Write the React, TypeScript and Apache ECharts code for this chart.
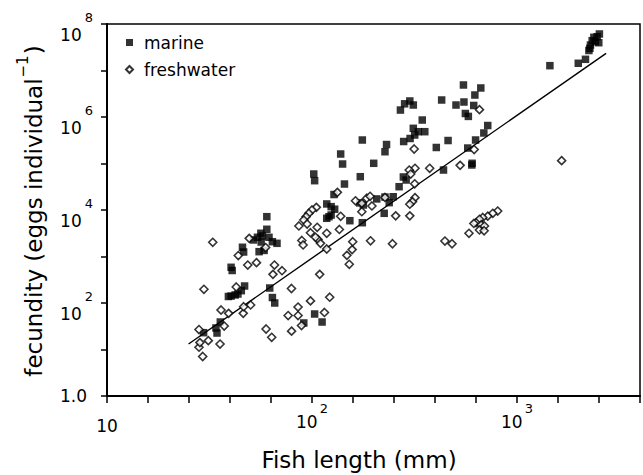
import React, { useEffect, useRef } from 'react';
import * as echarts from 'echarts';

const FONT = 'DejaVu Sans';

// [fish length (mm), fecundity (eggs per individual)]
const marine: number[][] = [
  [29.6, 23], [35.7, 39], [34, 29], [34.4, 22.6], [40.3, 586], [40.8, 500], [45.8, 1580], [46.4, 1250],
  [40.3, 141], [42.2, 149], [43.5, 156], [45.2, 184], [46.9, 232], [39.1, 138],
  [60.2, 7180], [60.2, 3850], [56.3, 3160], [54.2, 2590], [51.8, 2270], [56.5, 2050], [58.4, 1350],
  [61.7, 2590], [64.1, 2080], [67.5, 1920], [55.2, 1270], [57.3, 2760],
  [62.2, 210], [64.1, 131], [65.8, 100], [91.2, 37.2], [103, 58], [112, 39],
  [102, 59400], [103, 42700], [128, 21500], [118, 13500], [124, 11800], [129, 10400], [118, 6630],
  [121, 7180], [124, 7800],
  [138, 160000], [141, 97500], [144, 36200], [153, 5890], [176, 5330], [172, 52000], [176, 320000],
  [200, 101000], [207, 17300], [227, 19000], [249, 19300], [238, 14400], [178, 12800], [171, 14200],
  [225, 8490], [266, 31700], [279, 51300], [288, 44200],
  [227, 179000], [231, 256000], [280, 297000], [301, 345000], [312, 571000], [330, 483000],
  [355, 483000], [317, 410000], [345, 861000],
  [270, 1410000], [283, 1920000], [300, 2210000], [312, 1810000],
  [404, 221000], [461, 312000], [438, 72400], [429, 2320000], [504, 1810000], [548, 4880000],
  [551, 2100000], [560, 1190000], [579, 1030000], [575, 215000], [604, 101000], [615, 1770000],
  [623, 2970000], [666, 4210000], [628, 320000], [689, 453000], [720, 656000], [602, 92900],
  [1447, 12700000], [1990, 14300000], [2158, 17400000], [2523, 61000000], [2460, 53300000],
  [2371, 51800000], [2326, 43800000], [2414, 41600000], [2506, 39600000], [2282, 35300000],
  [2267, 30000000], [2242, 26900000],
];

const freshwater: number[][] = [
  [28.1, 26.9], [29.3, 7.07], [28.1, 11.2], [28.4, 14.1], [31.2, 15.5], [35.6, 13.1], [32.8, 2020],
  [29.7, 197], [36.0, 70.7], [37.3, 32.0], [39.2, 60.0], [46.2, 60.0], [50.2, 90.6], [46.4, 83.2],
  [43.7, 1050], [49.4, 2460], [48.6, 656], [53.6, 736], [65.6, 656], [64.5, 414], [71.4, 495],
  [59.7, 27.6], [63.6, 18.3], [79.4, 205], [79.5, 24.8], [76.5, 53.8], [85.5, 82.0], [85.5, 53.8],
  [98.3, 111], [88.9, 32.8], [115, 62.5], [122, 133], [109, 414],
  [86.3, 4530], [89.2, 2210], [98.3, 3250], [106, 4250], [107, 2320], [110, 1920], [118, 3160],
  [136, 3810], [148, 1060], [152, 680], [157, 1410], [158, 2080], [133, 24000], [163, 15800],
  [175, 13900], [185, 17900], [175, 9190], [105, 11400], [100, 10000], [96.5, 8490], [93.6, 7180],
  [91.2, 6100], [94.7, 5000], [104, 2590], [138, 7320], [90.5, 1770], [118, 1450],
  [315, 205000], [375, 78900], [528, 91400], [318, 78900], [298, 72400], [303, 59400], [317, 36600],
  [192, 19700], [227, 18600], [196, 12200], [318, 18400], [309, 15100], [300, 13300], [256, 7500],
  [300, 7500], [193, 2180], [247, 1880], [445, 2150], [482, 1880], [583, 3160],
  [805, 9510], [762, 8490], [720, 7360], [681, 6900], [656, 6310], [632, 5330], [616, 5130],
  [668, 4760], [694, 4530], [656, 3720], [691, 3570],
  [656, 1440000], [618, 200000], [1651, 115000], [42.7, 221], [59.4, 1560],
];

const fitLine: number[][] = [[25.0, 13.1], [2720, 23400000]];

const xLabelExponents = [1, 2, 3];
const yLabelExponents = [0, 2, 4, 6, 8];

const X_MIN = 10;
const X_MAX = Math.pow(10, 3.6);
const Y_MIN = 1;
const Y_MAX = 1e8;
// tick marks every 0.2 decade along x (exponent space)
const X_TICK_EXP_MIN = 1;
const X_TICK_EXP_MAX = 3.6;
const X_TICK_EXP_STEP = 0.2;

function exponentOf(v: number): number | null {
  const e = Math.log10(v);
  const r = Math.round(e);
  return Math.abs(e - r) < 1e-6 ? r : null;
}

export default function App() {
  const ref = useRef<HTMLDivElement>(null);
  useEffect(() => {
    const chart = echarts.init(ref.current!, null, { renderer: 'svg' });
    const option: any = {
      animation: false,
      backgroundColor: '#fff',
      textStyle: { fontFamily: FONT },
      grid: {
        left: 107, right: 2, top: 24, bottom: 79,
        show: true, borderColor: '#000', borderWidth: 1.5, backgroundColor: 'transparent',
      },
      legend: {
        orient: 'vertical',
        left: 120,
        top: 29,
        itemWidth: 7,
        itemHeight: 7,
        itemGap: 10,
        selectedMode: false,
        data: [
          { name: 'marine', icon: 'rect' },
          { name: 'freshwater', icon: 'diamond' },
        ],
        textStyle: { fontFamily: FONT, fontSize: 17, color: '#000', padding: [0, 0, 0, 6] },
      },
      xAxis: [
        {
          type: 'log',
          logBase: 10,
          min: X_MIN,
          max: X_MAX,
          axisLine: { show: true, lineStyle: { color: '#000', width: 2 } },
          axisTick: { show: false },
          splitLine: { show: false },
          axisLabel: {
            margin: 4,
            color: '#000',
            fontFamily: FONT,
            fontSize: 17,
            formatter: (v: number) => {
              const e = exponentOf(v);
              if (e === null || xLabelExponents.indexOf(e) < 0) return '';
              if (e === 1) return '{c|10}';
              return '{b|10}{s|' + e + '}';
            },
            rich: {
              b: { fontFamily: FONT, fontSize: 17, lineHeight: 30, verticalAlign: 'bottom', color: '#000' },
              s: { fontFamily: FONT, fontSize: 13, verticalAlign: 'top', padding: [2, 0, 0, 2], color: '#000' },
              c: { fontFamily: FONT, fontSize: 17, lineHeight: 34, verticalAlign: 'bottom', color: '#000' },
            },
          },
        },
        {
          type: 'value',
          position: 'bottom',
          min: X_TICK_EXP_MIN,
          max: X_TICK_EXP_MAX,
          interval: X_TICK_EXP_STEP,
          axisLine: { show: false },
          axisTick: { show: true, length: 7, lineStyle: { color: '#000', width: 1.5 } },
          axisLabel: { show: false },
          splitLine: { show: false },
        },
      ],
      yAxis: {
        type: 'log',
        logBase: 10,
        min: Y_MIN,
        max: Y_MAX,
        interval: 1,
        axisLine: { show: true, lineStyle: { color: '#000', width: 2 } },
        axisTick: { show: true, length: 6, lineStyle: { color: '#000', width: 1.5 } },
        splitLine: { show: false },
        axisLabel: {
          margin: 14,
          color: '#000',
          fontFamily: FONT,
          fontSize: 17,
          formatter: (v: number) => {
            const e = exponentOf(v);
            if (e === null || yLabelExponents.indexOf(e) < 0) return '';
            if (e === 0) return '{p|1.0}';
            return '{b|10}{s|' + e + '}';
          },
          rich: {
            b: { fontFamily: FONT, fontSize: 17, lineHeight: 39, verticalAlign: 'bottom', color: '#000' },
            s: { fontFamily: FONT, fontSize: 13, verticalAlign: 'top', padding: [6, 0, 0, 3], color: '#000' },
            p: { fontFamily: FONT, fontSize: 17, padding: [0, 6, 0, 0], color: '#000' },
          },
        },
      },
      graphic: [
        {
          type: 'text',
          x: 30,
          y: 211,
          rotation: Math.PI / 2,
          style: {
            text: '{n|fecundity (eggs individual}{s|−1}{n|)}',
            textAlign: 'center',
            textVerticalAlign: 'middle',
            fill: '#000',
            rich: {
              n: { fontFamily: FONT, fontSize: 23, lineHeight: 30, verticalAlign: 'bottom', fill: '#000' },
              s: { fontFamily: FONT, fontSize: 15, verticalAlign: 'top', padding: [0, 1, 0, 1], fill: '#000' },
            },
          },
        },
        {
          type: 'text',
          x: 359,
          y: 460,
          style: {
            text: 'Fish length (mm)',
            textAlign: 'center',
            textVerticalAlign: 'middle',
            fontFamily: FONT,
            fontSize: 23,
            fill: '#000',
          },
        },
      ],
      series: [
        {
          name: 'fit',
          type: 'line',
          xAxisIndex: 0,
          data: fitLine,
          showSymbol: false,
          symbol: 'none',
          silent: true,
          lineStyle: { color: '#000', width: 1.4 },
          z: 2,
        },
        {
          name: 'marine',
          type: 'scatter',
          xAxisIndex: 0,
          data: marine,
          symbol: 'rect',
          symbolSize: 7.5,
          itemStyle: { color: '#000' },
          z: 3,
        },
        {
          name: 'freshwater',
          type: 'scatter',
          xAxisIndex: 0,
          data: freshwater,
          symbol: 'diamond',
          symbolSize: 8,
          itemStyle: { color: '#fff', borderColor: '#000', borderWidth: 1.6 },
          z: 4,
        },
      ],
    };
    chart.setOption(option);
    return () => chart.dispose();
  }, []);
  return (
    <div
      ref={ref}
      style={{ position: 'absolute', left: 0, top: 0, width: 643, height: 475, background: '#fff' }}
    />
  );
}
